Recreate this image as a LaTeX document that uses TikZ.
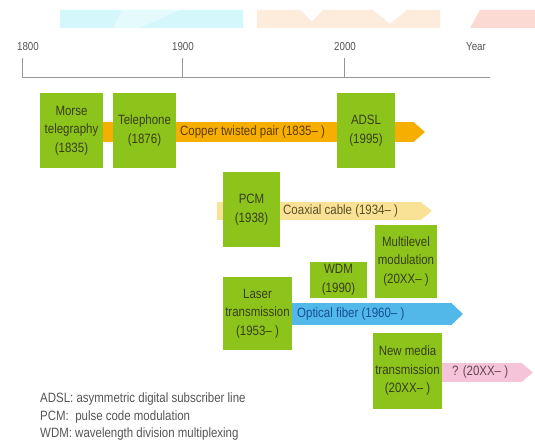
\documentclass[tikz,border=0pt]{standalone}
\usepackage{fontspec}
\setmainfont{Liberation Sans}[FakeStretch=0.85]
\usetikzlibrary{arrows.meta}
\definecolor{boxgreen}{RGB}{141,196,28}
\definecolor{boxtext}{RGB}{55,62,25}
\definecolor{copperc}{RGB}{246,174,0}
\definecolor{coaxc}{RGB}{249,226,150}
\definecolor{fiberc}{RGB}{82,184,234}
\definecolor{pinkc}{RGB}{246,196,216}
\definecolor{axisc}{RGB}{150,150,150}
\definecolor{labelc}{RGB}{85,85,85}
\definecolor{fadecyan}{RGB}{212,247,251}
\definecolor{fadeorange}{RGB}{253,236,220}
\definecolor{fadered}{RGB}{251,218,212}
\tikzset{
  techbox/.style={fill=boxgreen, draw=none, align=center, inner sep=0pt,
    text=boxtext, font=\fontsize{13.5}{18.5}\selectfont},
  band/.style={line width=#1, -{Triangle[length=12pt,width=#1]}},
  bandlabel/.style={anchor=west, inner sep=0pt, font=\fontsize{13.5}{16}\selectfont},
  yearlabel/.style={text=labelc, inner sep=0pt, font=\fontsize{11.5}{13}\selectfont},
  legendline/.style={anchor=west, inner sep=0pt, text=labelc, font=\fontsize{13.5}{16}\selectfont}
}
\begin{document}
\begin{tikzpicture}[x=1pt,y=-1pt]
\useasboundingbox (0,0) rectangle (535,441);
\fill[white] (0,0) rectangle (535,441);
% faint top band
\fill[fadecyan] (60,10) -- (122,10) -- (113,28) -- (60,28) -- cycle;
\fill[fadecyan!60!white] (122,10) -- (180,10) -- (150,28) -- (113,28) -- cycle;
\fill[fadecyan] (180,10) -- (243,10) -- (243,28) -- (140,28) -- cycle;
\fill[fadeorange] (257,10) -- (300,10) -- (312,22) -- (323,10) -- (373,10) -- (390,24) -- (407,10) -- (440,10) -- (440,28) -- (257,28) -- cycle;
\fill[fadered] (480,10) -- (535,10) -- (535,28) -- (470,28) -- cycle;
% axis
\coordinate (a0) at (22,78);
\coordinate (a1) at (182,78);
\coordinate (a2) at (344,78);
\coordinate (aend) at (490,78);
\coordinate (t0) at (22,58);
\coordinate (t1) at (182,58);
\coordinate (t2) at (344,58);
\draw[axisc, line width=1pt] (a0) -- (aend);
\draw[axisc, line width=1pt] (a0) -- (t0);
\draw[axisc, line width=1pt] (a1) -- (t1);
\draw[axisc, line width=1pt] (a2) -- (t2);
\node[yearlabel] (y1800) at (28,47) {1800};
\node[yearlabel] (y1900) at (183,47) {1900};
\node[yearlabel] (y2000) at (345,47) {2000};
\node[yearlabel] (yyear) at (476,47) {Year};
% band coordinates
\coordinate (cu0) at (71.5,132);
\coordinate (cuT) at (425,132);
\coordinate (co0) at (217,211);
\coordinate (coT) at (432,211);
\coordinate (fi0) at (257.5,314);
\coordinate (fiT) at (463,314);
\coordinate (pk0) at (407.5,372.5);
\coordinate (pkT) at (533,372.5);
\draw[band=20pt, copperc] (cu0) -- (cuT);
\draw[band=18pt, coaxc] (co0) -- (coT);
\draw[band=22pt, fiberc] (fi0) -- (fiT);
\draw[band=19pt, pinkc] (pk0) -- (pkT);
% boxes
\node[techbox, minimum width=63pt, minimum height=75pt] (morse) at (71.5,130.5) {Morse\\telegraphy\\(1835)};
\node[techbox, minimum width=63pt, minimum height=75pt] (tel) at (144.5,130.5) {Telephone\\(1876)};
\node[techbox, minimum width=58pt, minimum height=75pt] (adsl) at (366,130.5) {ADSL\\(1995)};
\node[techbox, minimum width=57pt, minimum height=75pt] (pcm) at (251.5,209.5) {PCM\\(1938)};
\node[techbox, minimum width=62pt, minimum height=73pt] (multi) at (406,261.5) {Multilevel\\modulation\\(20XX– )};
\node[techbox, minimum width=57pt, minimum height=36pt] (wdm) at (338.5,280) {WDM\\(1990)};
\node[techbox, minimum width=69pt, minimum height=73pt] (laser) at (257.5,313.5) {Laser\\transmission\\(1953– )};
\node[techbox, minimum width=69pt, minimum height=76pt] (newmedia) at (407.5,371) {New media\\transmission\\(20XX– )};
% band labels
\node[bandlabel, text={rgb,255:red,95;green,60;blue,0}] (culab) at (180,132) {Copper twisted pair (1835– )};
\node[bandlabel, text={rgb,255:red,90;green,80;blue,40}] (colab) at (283,211) {Coaxial cable (1934– )};
\node[bandlabel, text={rgb,255:red,20;green,80;blue,150}] (filab) at (297,314) {Optical fiber (1960– )};
\node[bandlabel, text={rgb,255:red,100;green,70;blue,85}] (pklab) at (452,372.5) {? (20XX– )};
% legend
\node[legendline] (leg1) at (40,399) {ADSL: asymmetric digital subscriber line};
\node[legendline] (leg2) at (40,417) {PCM:\ \ pulse code modulation};
\node[legendline] (leg3) at (40,434.5) {WDM: wavelength division multiplexing};
\end{tikzpicture}
\end{document}
